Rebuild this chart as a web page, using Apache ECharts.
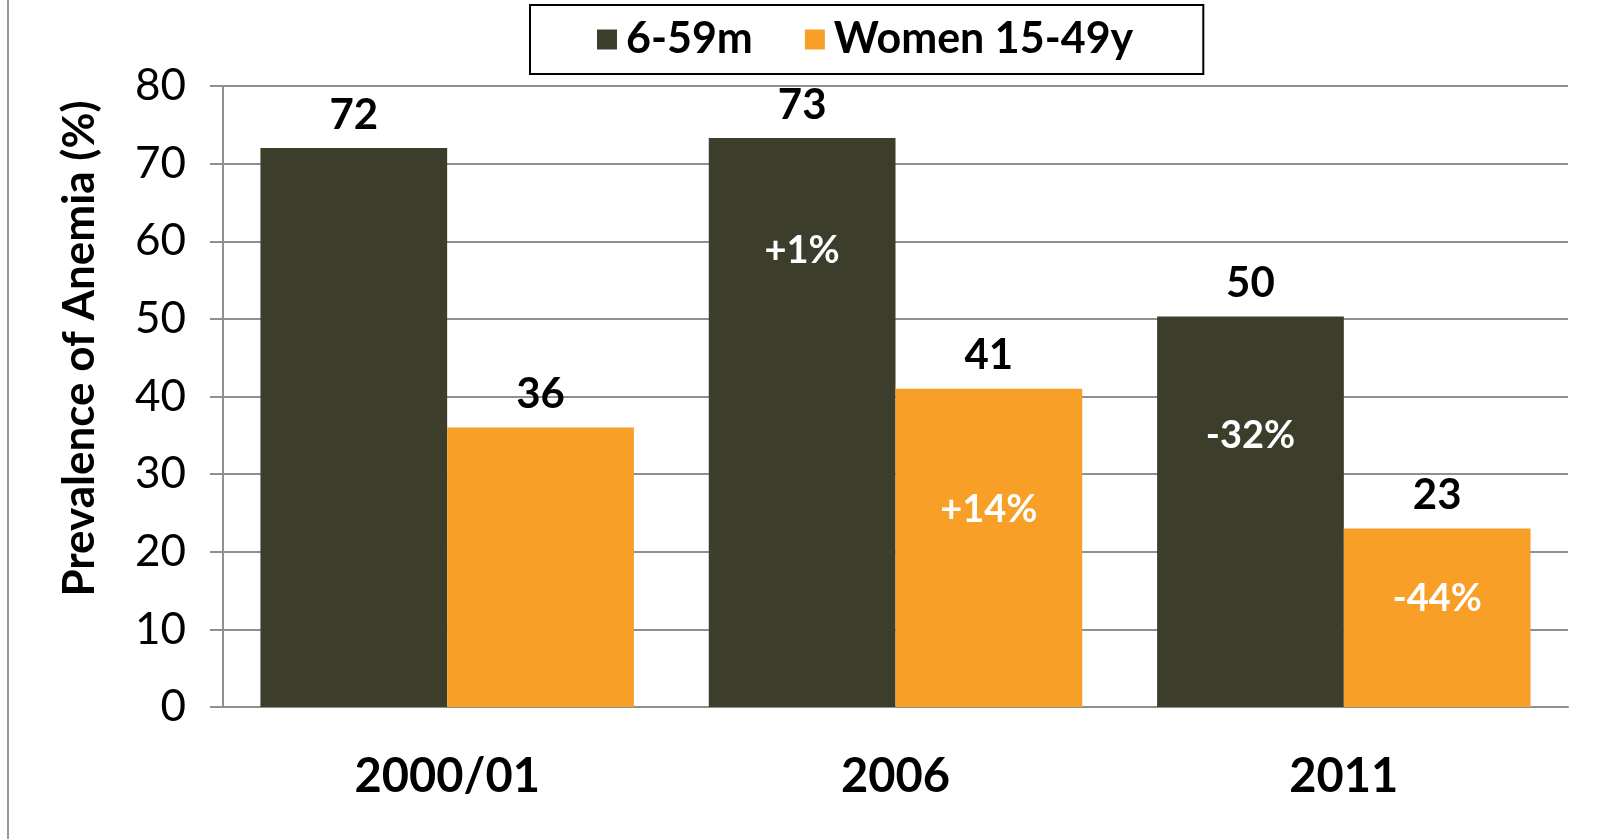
<!DOCTYPE html>
<html>
<head>
<meta charset="utf-8">
<script src="https://cdn.jsdelivr.net/npm/echarts@6/dist/echarts.min.js"></script>
<style>
  html, body { margin: 0; padding: 0; background: #fff; }
  #chart { width: 1621px; height: 839px; }
</style>
</head>
<body>
<div id="chart"></div>
<script>
var categories = ['2000/01', '2006', '2011'];
var seriesNames = ['6-59m', 'Women 15-49y'];
var children = [72, 73.3, 50.3];
var women = [36, 41, 23];
var childrenChange = ['', '+1%', '-32%'];
var womenChange = ['', '+14%', '-44%'];

// where the change labels sit below the top of each bar (px)
var childrenChangeDist = [0, 94, 100];
var womenChangeDist = [0, 102, 51];

var FONT = 'Lato';
var DARK = '#3d3d2c';
var ORANGE = '#f79f27';
var GRID = '#8f8f8f';

var myChart = echarts.init(document.getElementById('chart'));

function changeData(values, texts, dists) {
    return values.map(function (v, i) {
        return {
            value: v,
            label: { show: texts[i] !== '', distance: dists[i] }
        };
    });
}

var barCommon = {
    type: 'bar',
    barGap: '0%',
    barCategoryGap: '16.7%',
    animation: false
};

var topLabel = {
    show: true,
    position: 'top',
    distance: 12,
    fontFamily: FONT,
    fontWeight: 'bold',
    fontSize: 42,
    color: '#000',
    formatter: function (p) { return Math.round(p.value); }
};

function changeLabel(texts) {
    return {
        position: 'insideTop',
        fontFamily: FONT,
        fontWeight: 'bold',
        fontSize: 38,
        color: '#fff',
        formatter: function (p) { return texts[p.dataIndex]; }
    };
}

var option = {
    backgroundColor: '#fff',
    grid: { left: 223, right: 53, top: 86, bottom: 132 },
    legend: {
        data: seriesNames,
        left: 530,
        top: 5,
        padding: [13, 70, 13, 67],
        borderColor: '#000',
        borderWidth: 2,
        itemWidth: 20,
        itemHeight: 20,
        itemGap: 52,
        icon: 'rect',
        textStyle: { fontFamily: FONT, fontWeight: 'bold', fontSize: 43, color: '#000', padding: [0, 0, 0, 4] }
    },
    xAxis: [{
        type: 'category',
        data: categories,
        axisLine: { lineStyle: { color: GRID, width: 2 } },
        axisTick: { show: false },
        axisLabel: { fontFamily: FONT, fontWeight: 'bold', fontSize: 47, color: '#000', margin: 46 }
    }, {
        type: 'category',
        data: categories,
        show: false
    }],
    yAxis: {
        type: 'value',
        min: 0,
        max: 80,
        interval: 10,
        name: 'Prevalence of Anemia (%)',
        nameLocation: 'middle',
        nameGap: 121,
        nameTextStyle: { fontFamily: FONT, fontWeight: 'bold', fontSize: 44, color: '#000', padding: [0, 0, 0, 96] },
        axisLine: { show: true, lineStyle: { color: GRID, width: 2 } },
        axisTick: { show: true, inside: false, length: 13, lineStyle: { color: GRID, width: 2 } },
        splitLine: { lineStyle: { color: GRID, width: 2 } },
        axisLabel: { fontFamily: FONT, fontSize: 44, color: '#000', margin: 37 }
    },
    graphic: [{
        type: 'line',
        shape: { x1: 8, y1: 0, x2: 8, y2: 839 },
        style: { stroke: '#999', lineWidth: 2 }
    }],
    series: [
        Object.assign({}, barCommon, {
            name: seriesNames[0],
            data: children,
            itemStyle: { color: DARK },
            label: topLabel
        }),
        Object.assign({}, barCommon, {
            name: seriesNames[1],
            data: women,
            itemStyle: { color: ORANGE },
            label: topLabel
        }),
        Object.assign({}, barCommon, {
            name: 'change-children',
            xAxisIndex: 1,
            silent: true,
            data: changeData(children, childrenChange, childrenChangeDist),
            itemStyle: { color: 'rgba(0,0,0,0)' },
            label: changeLabel(childrenChange)
        }),
        Object.assign({}, barCommon, {
            name: 'change-women',
            xAxisIndex: 1,
            silent: true,
            data: changeData(women, womenChange, womenChangeDist),
            itemStyle: { color: 'rgba(0,0,0,0)' },
            label: changeLabel(womenChange)
        })
    ]
};

myChart.setOption(option);
</script>
</body>
</html>
